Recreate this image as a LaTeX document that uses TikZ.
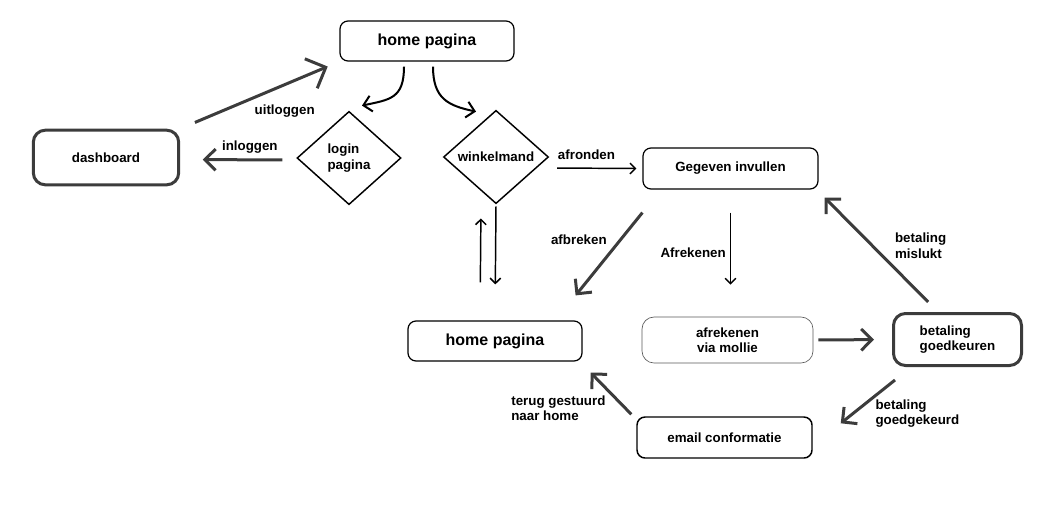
\documentclass[tikz,border=0pt]{standalone}
\usepackage{fontspec}
\setmainfont{Liberation Sans}
\usetikzlibrary{arrows.meta,positioning,shapes.geometric}
\definecolor{pen}{HTML}{3C3C3C}
\tikzset{
    box/.style={
        rectangle,
        rounded corners=6pt,
        draw=black, line width=0.9pt,
        minimum width=130.5pt,
        minimum height=30pt,
        align=center,
        font=\bfseries\fontsize{10}{11.5}\selectfont
    },
    heavybox/.style={box, draw=pen, line width=2.25pt, rounded corners=9pt},
    keuze/.style={
        diamond,
        draw=black, line width=1.1pt,
        inner sep=0pt,
        minimum width=78pt,
        minimum height=70pt,
        align=left,
        font=\bfseries\fontsize{10}{11.5}\selectfont
    },
    line/.style={draw=pen, line width=2.25pt, ->},
    thinline/.style={draw=black, line width=1.1pt, -{Straight Barb[length=4pt,width=8pt]}},
    lbl/.style={font=\bfseries\fontsize{10}{11.5}\selectfont, align=left, inner sep=1pt}
}
\begin{document}
\begin{tikzpicture}[x=0.75pt, y=0.75pt, >={Straight Barb[length=8pt,width=16pt]},
                    bigtitle/.style={font=\bfseries\fontsize{12}{14}\selectfont}]
    \useasboundingbox (0,0) rectangle (1063,-504);
    \node[box, bigtitle] (A) at (427,-41) {home pagina};
    \node[heavybox, minimum width=109pt, minimum height=41pt] (D) at (106,-157.5) {dashboard};
    \node[keuze] (L) at (349,-158) {login\\pagina};
    \node[keuze, minimum width=78.75pt] (W) at (496,-157) {winkelmand};
    \node[box, minimum width=131.25pt, minimum height=30.75pt] (G) at (730.5,-168.5) {Gegeven invullen};
    \node[box, draw=black!65, line width=0.5pt, rounded corners=9pt, minimum width=128.25pt, minimum height=34.5pt] (M) at (727.5,-340) {afrekenen\\via mollie};
    \node[heavybox, align=left, minimum width=96pt, minimum height=39pt] (B) at (957.5,-339.5) {betaling\\goedkeuren};
    \node[box, bigtitle] (H) at (495,-341) {home pagina};
    \node[box, line width=1.1pt, minimum width=131.25pt, minimum height=30.75pt] (E) at (724.5,-437.5) {email conformatie};

    \draw[line, -{Straight Barb[length=12pt,width=24pt]}, shorten <=12pt, shorten >=9.5pt] (D.north east) -- (A.south west)
        node[lbl, pos=0.45, anchor=north west, yshift=-3pt] {uitloggen};
    \draw[line, shorten <=10.5pt, shorten >=17pt] ([yshift=-1.5pt]L.west) -- ([yshift=-1.5pt]D.east)
        node[lbl, pos=0.4, above=3pt] {inloggen};
    \draw[black, line width=1.5pt, -{Straight Barb[length=6pt,width=12pt]}] ([xshift=-17.25pt,yshift=-3.75pt]A.south)
        .. controls +(0,-32) and +(28,6) .. ([xshift=9.75pt,yshift=3.75pt]L.north);
    \draw[black, line width=1.5pt, -{Straight Barb[length=6pt,width=12pt]}] ([xshift=4.5pt,yshift=-3.75pt]A.south)
        .. controls +(0,-32) and +(-28,6) .. ([xshift=-15pt,yshift=-1.5pt]W.north);
    \draw[thinline, shorten <=6pt, shorten >=4.5pt] ([yshift=-8.25pt]W.east) -- (G.west)
        node[lbl, pos=0.4, above=5pt] {afronden};
    \draw[thinline, shorten <=1.5pt, shorten >=27pt] (W.south) -- (H.north);
    \draw[thinline, shorten <=28.5pt, shorten >=10.5pt] ([xshift=-11.25pt]H.north) -- ([xshift=-11.25pt]W.south);
    \draw[line] ([yshift=-17.25pt]G.south west) -- ([xshift=-5.25pt,yshift=18.75pt]H.north east)
        node[lbl, pos=0.333, left=8pt] {afbreken};
    \draw[thinline, shorten <=17.25pt, shorten >=24pt] (G.south) -- (G.south |- M.north)
        node[lbl, midway, left=2pt] {Afrekenen};
    \draw[line, shorten <=3.75pt, shorten >=13.5pt] (M.east) -- (B.west);
    \draw[line] ([xshift=-22pt,yshift=7.5pt]B.north) -- ([xshift=4.5pt,yshift=-6pt]G.south east)
        node[lbl, pos=0.54, right=15pt] {betaling\\mislukt};
    \draw[line] ([xshift=2.25pt,yshift=-9.75pt]B.south west) -- ([xshift=21pt,yshift=-5.25pt]E.north east)
        node[lbl, pos=0.78, right=15pt] {betaling\\goedgekeurd};
    \draw[line] ([xshift=-3.75pt,yshift=1.5pt]E.north west) -- ([xshift=6pt,yshift=-8.25pt]H.south east)
        node[lbl, pos=0.14, left=13pt] {terug gestuurd\\naar home};
\end{tikzpicture}
\end{document}
